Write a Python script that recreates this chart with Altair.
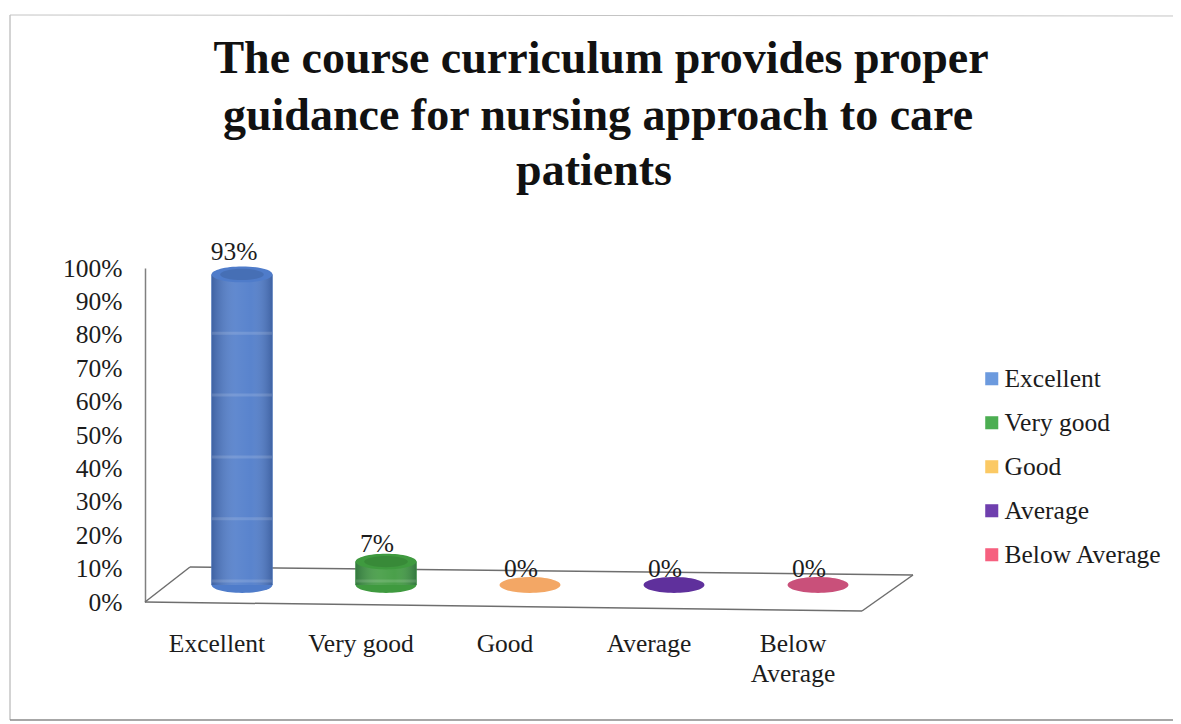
import altair as alt
import pandas as pd

categories = ["Excellent", "Very good", "Good", "Average", "Below Average"]
values = [0.93, 0.07, 0.0, 0.0, 0.0]
labels = ["93%", "7%", "0%", "0%", "0%"]
legend_colors = ["#6c9ade", "#4cae52", "#fbc964", "#6f3fae", "#f6607f"]
shade_colors = ["#4f7cca", "#3f9a3f", "#f3a765", "#5f309c", "#c9507a"]
band_cats = ["Excellent"] * 5 + ["Very good"]
band_vals = [0.754, 0.569, 0.383, 0.198, 0.012, 0.012]
title_lines = ["The course curriculum provides proper",
               "guidance for nursing approach to care",
               "patients"]

SERIF = "Liberation Serif"
ELLIPSE = "M-1,0 A1,0.26 0 1 1 1,0 A1,0.26 0 1 1 -1,0 Z"
FS = 25.5

df = pd.DataFrame({"cat": categories, "val": values, "label": labels, "shade": shade_colors})
df["zero"] = 0.0
bands = pd.DataFrame({"cat": band_cats, "val": band_vals})

x = alt.X("cat:N", sort=categories, scale=alt.Scale(paddingInner=0, paddingOuter=0),
          axis=alt.Axis(title=None, domain=False, ticks=False, labelAngle=0, labelFont=SERIF,
                        labelFontSize=FS, labelColor="#1c1c1c", labelPadding=29, labelLimit=300,
                        labelLineHeight=30,
                        labelExpr="datum.label == 'Below Average' ? ['Below', 'Average'] : datum.label"))
y_axis = alt.Axis(title=None, format=".0%", values=[i / 10 for i in range(11)], grid=False,
                  ticks=False, domain=True, domainColor="#808080", domainWidth=1.5,
                  labelFont=SERIF, labelFontSize=FS, labelColor="#1c1c1c", labelPadding=23,
                  labelBaseline="middle", labelOverlap=False)
y_scale = alt.Scale(domain=[0, 1])
y = alt.Y("val:Q", scale=y_scale, axis=y_axis)
y_zero = alt.Y("zero:Q", scale=y_scale, axis=y_axis)


def seg(x1, y1, x2, y2, color="#6e6e6e", w=1.5):
    return alt.Chart(df.head(1)).mark_rule(color=color, strokeWidth=w).encode(
        x=alt.value(x1), x2=alt.value(x2), y=alt.value(y1), y2=alt.value(y2))


def title_line(i, xp, yp):
    return alt.Chart(df.head(1)).mark_text(font=SERIF, fontSize=46, fontWeight="bold", color="#111111",
                                           align="center", baseline="alphabetic").encode(
        x=alt.value(xp), y=alt.value(yp), text=alt.value(title_lines[i]))


floor = (seg(0, 334, 45, 299) + seg(45, 299, 768, 307) + seg(768, 307, 717, 343) + seg(717, 343, 0, 334))
frame = (seg(-135, -253, -135, 452, "#a8a8a8", 1) + seg(-135, -253, 1036, -252, "#c4c4c4", 1)
         + seg(-135, 452, 1036, 452, "#8a8a8a", 1.5))
titles = title_line(0, 456, -195) + title_line(1, 453, -138) + title_line(2, 449, -83)

base = alt.Chart(df)
color = alt.Color("cat:N", sort=categories, scale=alt.Scale(domain=categories, range=legend_colors),
                  legend=alt.Legend(title=None, orient="none", legendX=834, legendY=98, symbolType="square",
                                    symbolSize=170, symbolStrokeWidth=0, labelFont=SERIF, labelFontSize=FS,
                                    labelColor="#1c1c1c", rowPadding=17, labelOffset=0, labelLimit=300))
shade = alt.Color("shade:N", scale=None)
off = dict(xOffset=25, yOffset=-17)
bar_off = dict(xOffset=25, yOffset=-17, y2Offset=-17)

nonzero = df[df.val > 0]
bottom = alt.Chart(nonzero).mark_point(shape=ELLIPSE, filled=True, opacity=1, size=3700, strokeWidth=0, **off).encode(
    x=x, y=y_zero, color=shade)
body = alt.Chart(nonzero).mark_bar(size=61, **bar_off).encode(x=x, y=y, y2=alt.Y2("zero:Q"), color=color)
body_shade = alt.Chart(nonzero).mark_bar(size=61, **bar_off).encode(x=x, y=y, y2=alt.Y2("zero:Q"), color=shade)
gloss = alt.Chart(nonzero).mark_bar(
    size=61,
    fill=alt.LinearGradient(gradient="linear", x1=0, x2=1, y1=0, y2=0, stops=[
        alt.GradientStop(color="rgba(20,30,60,0.28)", offset=0),
        alt.GradientStop(color="rgba(255,255,255,0.10)", offset=0.4),
        alt.GradientStop(color="rgba(255,255,255,0.06)", offset=0.65),
        alt.GradientStop(color="rgba(20,30,60,0.28)", offset=1)]),
    **bar_off).encode(x=x, y=y, y2=alt.Y2("zero:Q"))
stripes = alt.Chart(bands).mark_tick(color="#ffffff", opacity=0.14, thickness=3, size=60, **off).encode(
    x=x, y=y)
cap = base.mark_point(shape=ELLIPSE, filled=True, opacity=1, size=3700, strokeWidth=0, **off).encode(x=x, y=y, color=shade)
cap_dark = alt.Chart(nonzero).mark_point(shape=ELLIPSE, filled=True, opacity=0.1, size=1900, strokeWidth=0,
                                         color="#000000", **off).encode(x=x, y=y)
text_hi = alt.Chart(df[df.val > 0.5]).mark_text(font=SERIF, fontSize=FS, color="#1c1c1c", baseline="bottom",
                                                xOffset=17, yOffset=-26).encode(x=x, y=y, text="label:N")
text_mid = alt.Chart(df[(df.val > 0) & (df.val <= 0.5)]).mark_text(font=SERIF, fontSize=FS, color="#1c1c1c", baseline="bottom",
                                                                   xOffset=16, yOffset=-22).encode(x=x, y=y, text="label:N")
text_lo = alt.Chart(df[df.val == 0]).mark_text(font=SERIF, fontSize=FS, color="#1c1c1c", baseline="bottom",
                                               xOffset=16, yOffset=-20).encode(x=x, y=y, text="label:N")

chart = alt.layer(frame, floor, bottom, body, body_shade, gloss, stripes, cap, cap_dark,
                  text_hi, text_mid, text_lo, titles).resolve_scale(
    color="independent"
).properties(
    width=720, height=334,
    background="#ffffff",
    padding={"left": 137, "top": 260, "right": 308, "bottom": 122},
    autosize=alt.AutoSizeParams(type="none"),
).configure_view(stroke=None)

chart.save("out.html", embed_options={"renderer": "svg", "actions": False})
